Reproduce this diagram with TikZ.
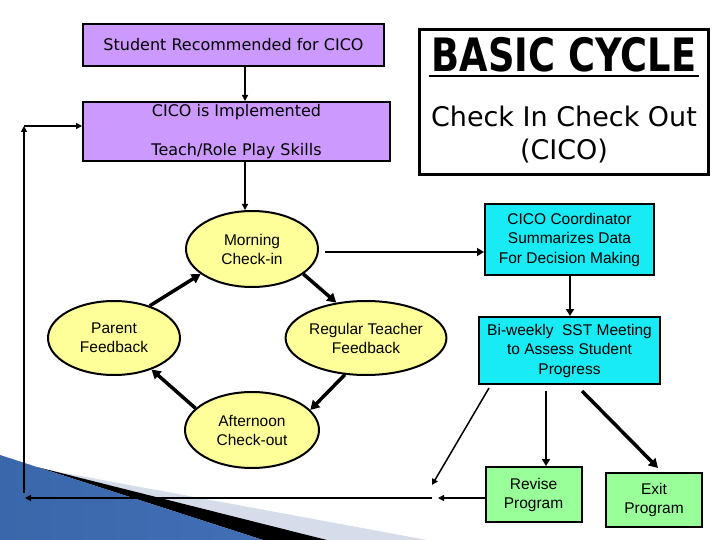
\documentclass[tikz,border=0pt]{standalone}
\usepackage{fontspec}
\setmainfont{DejaVu Sans}
\newfontfamily\arialf{Liberation Sans}
\usetikzlibrary{shapes.geometric,arrows.meta,calc}
\definecolor{lav}{RGB}{204,153,255}
\definecolor{pyel}{RGB}{255,255,153}
\definecolor{cyanb}{RGB}{25,235,245}
\definecolor{pgreen}{RGB}{153,255,153}
\definecolor{swlight}{RGB}{213,221,234}
\definecolor{swleft}{RGB}{58,102,170}
\definecolor{swmid}{RGB}{102,148,214}
\definecolor{swright}{RGB}{66,110,182}
\tikzset{
  lbox/.style={draw=black, line width=2pt, fill=lav, inner sep=0pt,
    font=\fontsize{16}{39}\selectfont, align=center},
  ell/.style={ellipse, draw=black, line width=2pt, fill=pyel, inner sep=0pt,
    minimum width=132pt, minimum height=76pt,
    font=\arialf\fontsize{15.5}{19}\selectfont, align=center},
  cbox/.style={draw=black, line width=2pt, fill=cyanb, inner sep=0pt,
    font=\arialf\fontsize{15.5}{19.5}\selectfont, align=center},
  gbox/.style={draw=black, line width=2pt, fill=pgreen, inner sep=0pt,
    font=\arialf\fontsize{15.5}{19}\selectfont, align=center},
  thinarrow/.style={line width=1.5pt, -{Triangle[length=6pt,width=6pt]}},
  medarrow/.style={line width=2pt, -{Triangle[length=7pt,width=8pt]}},
  thickarrow/.style={line width=3.5pt, -{Triangle[length=9pt,width=10pt]}},
}
\begin{document}
\begin{tikzpicture}[x=1pt,y=-1pt]
\useasboundingbox (0,0) rectangle (720,540);
\fill[white] (0,0) rectangle (720,540);
% decorative swoosh (non-overlapping pieces)
\fill[swlight] (70,474) -- (427,540) -- (327,540) -- (48,470) -- cycle;
\fill[black] (37,467) -- (327,540) -- (263,540) -- cycle;
\shade[left color=swleft, middle color=swmid, right color=swright] (0,455) -- (37,467) -- (263,540) -- (0,540) -- cycle;

% boxes
\node[lbox, minimum width=301pt, minimum height=42pt] (s1) at (233.5,45) {Student Recommended for CICO};
\node[lbox, minimum width=307pt, minimum height=59pt] (s2) at (236.5,131.5) {CICO is Implemented\\Teach/Role Play Skills};

% title box
\node[draw=black, line width=3pt, fill=white, minimum width=289pt, minimum height=145pt, inner sep=0pt] (tb) at (563.5,102.5) {};
\node[anchor=base, inner sep=0pt, font=\fontsize{46}{50}\selectfont\bfseries] (t1) at (564,72) {\scalebox{0.8}[1]{BASIC CYCLE}};
\draw[line width=2.5pt] ($(t1.base west)+(-3,4)$) -- ($(t1.base east)+(3,4)$);
\node[anchor=base, inner sep=0pt, font=\fontsize{27}{30}\selectfont] (t2) at (564,127) {Check In Check Out};
\node[anchor=base, inner sep=0pt, font=\fontsize{27}{30}\selectfont] (t3) at (564,160) {(CICO)};

% ellipses
\node[ell] (morning) at (252,249) {Morning\\Check-in};
\node[ell, minimum height=74pt] (parent) at (114,338) {Parent\\Feedback};
\node[ell, minimum height=74pt] (teacher) at (366,338) {Regular Teacher\\Feedback};
\node[ell, minimum width=134pt] (afternoon) at (252,430) {Afternoon\\Check-out};

% right boxes
\node[cbox, minimum width=169pt, minimum height=71pt] (coord) at (569.5,239.5) {CICO Coordinator\\Summarizes Data\\For Decision Making};
\node[cbox, minimum width=181pt, minimum height=67pt] (biweekly) at (569.5,350.5) {Bi-weekly\ \ SST Meeting\\to Assess Student\\Progress};
\node[gbox, minimum width=96pt, minimum height=55pt] (revise) at (533.5,494.5) {Revise\\Program};
\node[gbox, minimum width=96pt, minimum height=54pt] (exit) at (654,500) {Exit\\Program};

% connectors
\coordinate (mx) at (245,0);
\draw[thinarrow] (s1.south -| mx) -- (s2.north -| mx);
\draw[thinarrow] (s2.south -| mx) -- (morning.north -| mx);
\coordinate (my) at (0,252);
\draw[medarrow] ($(morning.east |- my)+(6,0)$) -- (coord.west |- my);
\coordinate (cx) at (570,0);
\draw[medarrow] (coord.south -| cx) -- (biweekly.north -| cx);
\coordinate (rx) at (546,0);
\draw[medarrow] ($(biweekly.south -| rx)+(0,6)$) -- (revise.north -| rx);
\coordinate (j1) at (432,485);
\draw[thinarrow] ($(biweekly.south west)+(11,3)$) -- (j1);
\draw[thickarrow] ($(biweekly.south)+(12.5,6)$) -- ($(exit.north)+(4,-4)$);
\coordinate (j2) at (438,498);
\draw[thinarrow] (revise.west |- j2) -- (j2);
\coordinate (j3) at (432,498);
\coordinate (lb) at (25,498);
\draw[thinarrow] (j3) -- (lb);
\coordinate (lt) at (24,493);
\coordinate (ltop) at (24,126);
\draw[thinarrow] (lt) -- (ltop);
\draw[thinarrow] (ltop) -- (s2.west |- ltop);

% cycle arrows
\draw[thickarrow] (parent.42) -- (morning.206);
\draw[thickarrow] (morning.-26) -- (teacher.130);
\draw[thickarrow] (teacher.240) -- (afternoon.19);
\draw[thickarrow] (afternoon.159) -- (parent.-40);
\end{tikzpicture}
\end{document}
